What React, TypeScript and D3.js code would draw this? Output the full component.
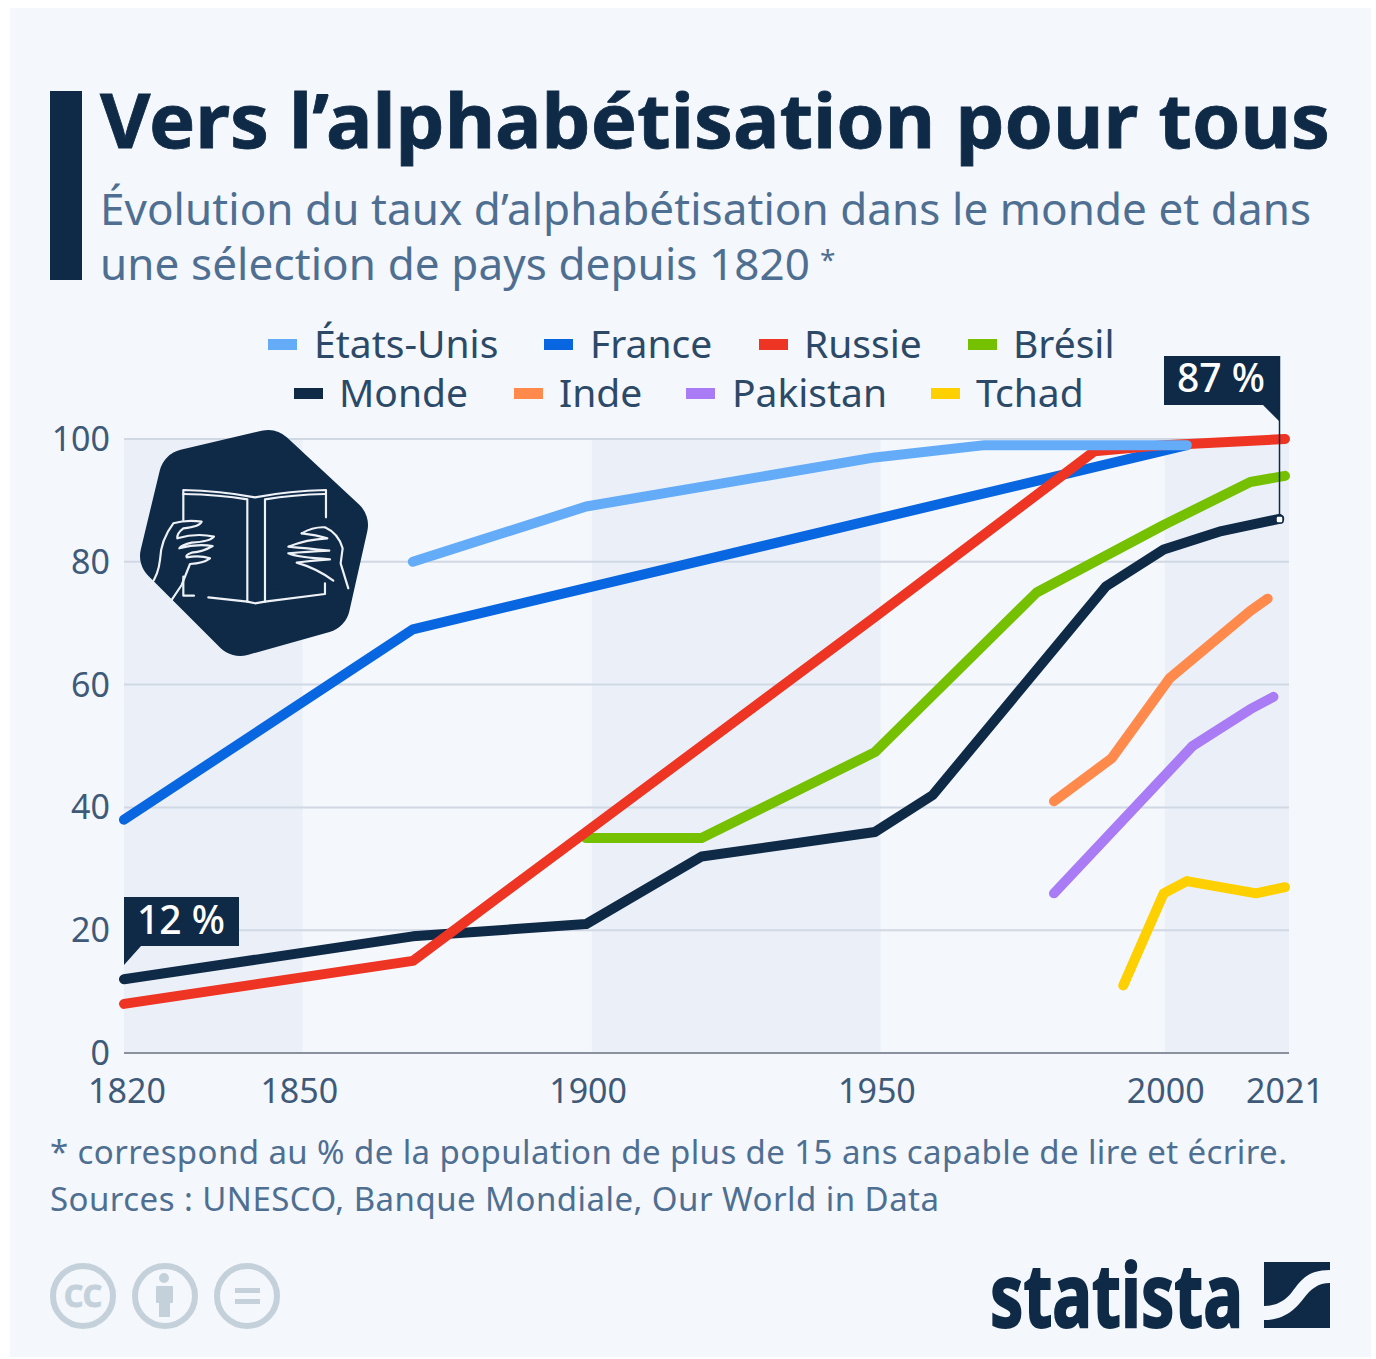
import * as d3 from "d3"

const years = [1820, 1850, 1900, 1950, 2000, 2021]
const yTicks = [0, 20, 40, 60, 80, 100]
const shadedBands: [number, number][] = [[1820, 1850.9], [1901, 1951], [2000.2, 2022]]

type Pt = [number, number]

const etatsUnis: Pt[] = [[1870, 80], [1900, 89], [1950, 97], [1969, 99], [2004, 99]]
const france: Pt[] = [[1820, 38], [1870, 69], [2004, 99]]
const russie: Pt[] = [[1820, 8], [1870, 15], [1900, 36], [1950, 71], [1988, 98], [2000, 99], [2021, 100]]
const bresil: Pt[] = [[1900, 35], [1920, 35], [1950, 49], [1978, 75], [2000, 86], [2015, 93], [2021, 94]]
const monde: Pt[] = [[1820, 12], [1870, 19], [1900, 21], [1920, 32], [1950, 36], [1960, 42], [1990, 76], [2000, 82], [2010, 85], [2020, 87]]
const inde: Pt[] = [[1981, 41], [1991, 48], [2001, 61], [2015, 72], [2018, 74]]
const pakistan: Pt[] = [[1981, 26], [2005, 50], [2015, 56], [2019, 58]]
const tchad: Pt[] = [[1993, 11], [2000, 26], [2004, 28], [2016, 26], [2021, 27]]

const DARK = "#0f2a47"
const GREY = "#4f6f92"
const TICK = "#3f5a78"
const LEGEND = "#2c4a68"

const legendRow1 = [
  { name: "États-Unis", color: "#64acf8", sw: 268, tx: 314 },
  { name: "France", color: "#0866e0", sw: 544, tx: 590 },
  { name: "Russie", color: "#ee3524", sw: 759, tx: 804 },
  { name: "Brésil", color: "#75c000", sw: 968, tx: 1013 },
]
const legendRow2 = [
  { name: "Monde", color: DARK, sw: 294, tx: 339 },
  { name: "Inde", color: "#ff8a4c", sw: 514, tx: 559 },
  { name: "Pakistan", color: "#a97cf5", sw: 686, tx: 732 },
  { name: "Tchad", color: "#ffd000", sw: 931, tx: 976 },
]

// drawn back to front, same order as the reference
const series = [
  { data: france, color: "#0866e0" },
  { data: bresil, color: "#75c000" },
  { data: monde, color: DARK },
  { data: russie, color: "#ee3524" },
  { data: etatsUnis, color: "#64acf8" },
  { data: inde, color: "#ff8a4c" },
  { data: pakistan, color: "#a97cf5" },
  { data: tchad, color: "#ffd000" },
]

const x = d3.scaleLinear().domain([1820, 2021]).range([124, 1285])
const y = d3.scaleLinear().domain([0, 100]).range([1053, 439])
const line = d3.line<Pt>().x((d) => x(d[0])).y((d) => y(d[1]))

const FONT = "'Noto Sans', 'Open Sans', sans-serif"

function BookIcon() {
  return (
    <g>
      <path
        d="M268 458 L340 525 L322 605 L240 628 L168 556 L187 477 Z"
        fill={DARK}
        stroke={DARK}
        strokeWidth={56}
        strokeLinejoin="round"
      />
      <g transform="translate(120,420) scale(0.3333)" fill="none" stroke="#eef2f7" strokeWidth={6.5} strokeLinejoin="round" strokeLinecap="round">
        <path d="M190 300 L190 210 Q300 212 405 232 Q510 212 618 210 L618 292" />
        <path d="M190 222 Q300 224 382 238 L382 545 L265 532" />
        <path d="M615 222 Q520 224 435 238 L435 545 L615 522 L615 490" />
        <path d="M382 545 L405 550 L435 545" />
        <path d="M190 470 L190 527 L222 527" />
        <path d="M92 495 Q115 465 120 420 Q122 360 160 310 Q200 298 245 305 Q240 320 190 325 Q170 340 172 355 Q230 338 282 350 Q270 365 215 368 Q185 375 178 385 Q230 370 278 378 Q250 395 215 398 Q195 405 200 412 Q240 405 270 415 Q250 430 210 432 Q195 470 185 495 L148 550" />
        <path d="M545 340 Q580 320 615 322 Q655 340 668 385 L662 430 L685 505" />
        <path d="M545 340 Q590 345 622 355 Q560 358 505 380 Q560 385 628 392 Q560 395 505 400 Q530 412 630 418 Q570 422 530 428 Q590 445 640 482" />
      </g>
    </g>
  )
}

export default function App() {
  return (
    <svg
      width={1376}
      height={1359}
      viewBox="0 0 1376 1359"
      style={{ position: "absolute", left: 0, top: 0, background: "#fff" }}
      fontFamily={FONT}
    >
      <rect x={10} y={8} width={1361} height={1349} fill="#f4f7fb" />

      {/* header */}
      <rect x={50} y={91} width={32} height={189} fill={DARK} />
      <text x={100} y={148} fontSize={76} fontWeight={700} fill={DARK} stroke={DARK} strokeWidth={0.8} textLength={1230} lengthAdjust="spacingAndGlyphs">
        Vers l’alphabétisation pour tous
      </text>
      <text x={100} y={225} fontSize={44} fill={GREY} textLength={1211}>
        Évolution du taux d’alphabétisation dans le monde et dans
      </text>
      <text x={100} y={280} fontSize={44} fill={GREY} textLength={710}>
        une sélection de pays depuis 1820
      </text>
      <text x={820} y={270} fontSize={28} fill={GREY}>*</text>

      {/* plot background */}
      {shadedBands.map(([a, b]) => (
        <rect key={a} x={x(a)} y={y(100)} width={Math.min(x(b), 1289) - x(a)} height={y(0) - y(100)} fill="#ebf0f8" />
      ))}
      {yTicks.filter((t) => t > 0).map((t) => (
        <line key={t} x1={124} x2={1289} y1={y(t)} y2={y(t)} stroke="#d0d8e4" strokeWidth={2} />
      ))}
      <line x1={124} x2={1289} y1={y(0)} y2={y(0)} stroke="#8a919c" strokeWidth={2} />

      {yTicks.map((t) => (
        <text key={t} x={110} y={y(t) + 12} fontSize={34} fill={TICK} textAnchor="end">{t}</text>
      ))}
      {years.map((yr) => (
        <text key={yr} x={yr === 1820 ? 127 : yr === 2021 ? 1285 : x(yr) + 2} y={1103} fontSize={34} fill={TICK} textAnchor="middle">{yr}</text>
      ))}

      <BookIcon />

      {/* legend */}
      {[legendRow1, legendRow2].map((row, i) =>
        row.map((l) => (
          <g key={l.name}>
            <rect x={l.sw} y={339 + i * 49} width={29} height={11} fill={l.color} />
            <text x={l.tx} y={358 + i * 49} fontSize={39} fill={LEGEND}>{l.name}</text>
          </g>
        ))
      )}

      {/* lines */}
      {series.map((s, i) => (
        <path key={i} d={line(s.data) ?? ""} fill="none" stroke={s.color} strokeWidth={10} strokeLinecap="round" strokeLinejoin="round" />
      ))}

      {/* callouts */}
      <path d="M124 897 H239 V946 H141 L124 965 Z" fill={DARK} />
      <text x={181} y={934} fontSize={39} fontWeight={500} fill="#fff" textAnchor="middle">12 %</text>
      <path d="M1164 356 H1279 V421 L1263 405 H1164 Z" fill={DARK} />
      <text x={1221} y={392} fontSize={39} fontWeight={500} fill="#fff" textAnchor="middle">87 %</text>
      <line x1={1279.5} x2={1279.5} y1={356} y2={518} stroke={DARK} strokeWidth={1.5} />
      <rect x={1276} y={516} width={7} height={7} rx={2} fill="#fff" stroke={DARK} strokeWidth={1.5} />

      {/* footer */}
      <text x={50} y={1164} fontSize={33} fill={GREY} textLength={1237}>
        * correspond au % de la population de plus de 15 ans capable de lire et écrire.
      </text>
      <text x={50} y={1211} fontSize={33} fill={GREY} textLength={889}>
        Sources : UNESCO, Banque Mondiale, Our World in Data
      </text>

      {/* licence icons */}
      <g fill="none" stroke="#c4d1db" strokeWidth={6}>
        <circle cx={83} cy={1296} r={30} />
        <circle cx={165} cy={1296} r={30} />
        <circle cx={247} cy={1296} r={30} />
      </g>
      <text x={83} y={1307} fontSize={31} fontWeight={700} fill="#c4d1db" stroke="#c4d1db" textAnchor="middle" textLength={38} lengthAdjust="spacingAndGlyphs">CC</text>
      <g fill="#c4d1db">
        <circle cx={164} cy={1278} r={5} />
        <rect x={156} y={1286} width={17} height={17} rx={1} />
        <rect x={159} y={1300} width={11} height={17} />
        <rect x={235} y={1288} width={25} height={5} />
        <rect x={235} y={1299} width={25} height={5} />
      </g>

      {/* statista logo */}
      <text x={990} y={1327} fontSize={88} fontWeight={700} fill={DARK} stroke={DARK} strokeWidth={2} textLength={253} lengthAdjust="spacingAndGlyphs">statista</text>
      <path d="M1264 1262 H1330 V1270 C1306 1270 1300 1282 1292 1292 C1285 1301 1276 1306 1264 1306 Z" fill={DARK} />
      <path d="M1330 1283 V1328 H1264 V1320 C1286 1320 1296 1308 1304 1298 C1311 1289 1318 1283 1330 1283 Z" fill={DARK} />
    </svg>
  )
}
